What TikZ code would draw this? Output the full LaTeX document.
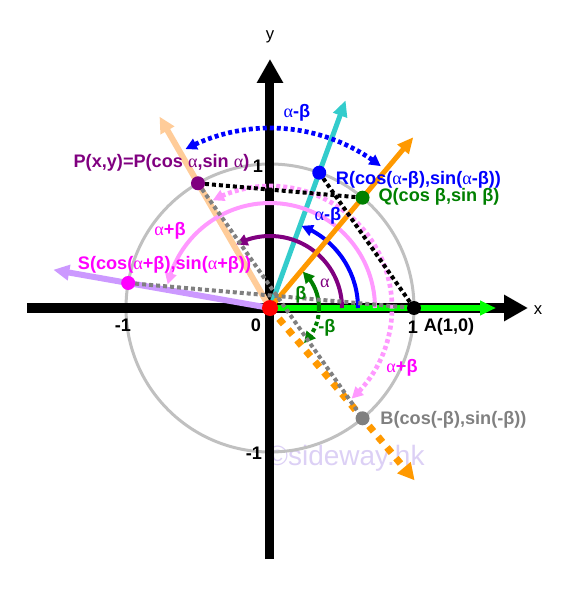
\documentclass[tikz,border=0pt]{standalone}
\usepackage{fontspec}
\setmainfont{Liberation Sans}
\newfontfamily\grk{Liberation Serif}
\usetikzlibrary{arrows.meta,bending}
\definecolor{corange}{HTML}{FF9900}
\definecolor{ccyan}{HTML}{33CCCC}
\definecolor{cpeach}{HTML}{FFCC99}
\definecolor{clav}{HTML}{CC99FF}
\definecolor{cpink}{HTML}{FF99FF}
\definecolor{cmag}{HTML}{FF00FF}
\definecolor{cpurple}{HTML}{800080}
\definecolor{cgreen}{HTML}{008000}
\definecolor{cblue}{HTML}{0000FF}
\definecolor{cgray}{HTML}{808080}
\definecolor{ccircle}{HTML}{C0C0C0}
\definecolor{clime}{HTML}{00FF00}
\definecolor{cwm}{HTML}{DCD0F5}
\newcommand\aA{{\grk\mdseries α}}
\newcommand\bB{β}
\begin{document}
\begin{tikzpicture}[x=0.75pt,y=0.75pt,
  lab/.style={font=\bfseries\fontsize{13.6}{16}\selectfont, inner sep=0},
  axlab/.style={font=\fontsize{12.5}{15}\selectfont, inner sep=0},
  axis/.style={line width=6.75pt,-{Triangle[length=18pt,width=18.75pt]}},
  ray/.style={line width=3.75pt,-{Triangle[length=12pt,width=10.5pt]}},
  wray/.style={line width=4.5pt,-{Triangle[length=12pt,width=11.25pt]}},
  chord/.style={line width=3pt,dash pattern=on 3pt off 2.25pt},
  arcst/.style={line width=3pt,-{Triangle[length=8.5pt,width=8.5pt]}},
  darc/.style={line width=3.5pt,dash pattern=on 3pt off 2.25pt,{Triangle[length=8.5pt,width=8.5pt]}-{Triangle[length=8.5pt,width=8.5pt]}},
  dotnode/.style={circle,inner sep=0,minimum size=10.5pt},
]
\useasboundingbox (-270,-288) rectangle (304,308);
\coordinate (O) at (0,0);
% watermark
\node[text=cwm,font=\fontsize{21}{24}\selectfont,inner sep=0] (wm) at (76,-150) {©sideway.hk};
% unit circle
\draw[ccircle,line width=2.25pt] (O) circle[radius=144];
% axes
\coordinate (xl) at (-243,0);
\coordinate (xr) at (258,0);
\coordinate (yb) at (0,-251);
\coordinate (yt) at (0,249);
\draw[axis] (xl) -- (xr);
\draw[axis] (yb) -- (yt);
\node[axlab] (xlab) at (268,-2) {x};
\node[axlab] (ylab) at (0,271) {y};
% points
\coordinate (Ap) at (0:144);
\coordinate (Pp) at (120:144);
\coordinate (Qp) at (50:144);
\coordinate (Rp) at (70:144);
\coordinate (Sp) at (170:144);
\coordinate (Bp) at (-50:144);
% rays
\coordinate (tG) at (0:226);
\coordinate (tO) at (50:223);
\coordinate (tOd) at (-50:225);
\coordinate (tC) at (70:221);
\coordinate (tP) at (120:221);
\coordinate (tL) at (170:220);
\draw[ray,clime] (O) -- (tG);
\draw[wray,cpeach] (O) -- (tP);
\draw[wray,clav] (O) -- (tL);
\draw[ray,ccyan] (O) -- (tC);
% arcs
\draw[arcst,cpurple] (72,0) arc[start angle=0,end angle=118,radius=72];
\draw[arcst,cblue] (88,0) arc[start angle=0,end angle=69,radius=88];
\draw[arcst,cpink] (105,0) arc[start angle=0,end angle=167,radius=105];
\draw[arcst,cgreen] (49,0) arc[start angle=0,end angle=48,radius=49];
\draw[arcst,cgreen,dash pattern=on 3pt off 2.25pt] (49,0) arc[start angle=0,end angle=-46,radius=49];
\draw[ray,corange] (O) -- (tO);
\draw[ray,corange,line width=5.25pt,dash pattern=on 5.25pt off 5.25pt,-{Triangle[length=12.5pt,width=12.5pt]}] (O) -- (tOd);
% double arcs
\draw[darc,cpink] (-48:122) arc[start angle=-48,end angle=118,radius=122];
\draw[darc,cblue] (52:180) arc[start angle=52,end angle=118,radius=180];
% chords
\draw[chord,cgray] (Sp) -- (Ap);
\draw[chord,cgray] (Pp) -- (Bp);
\draw[chord,black] (Pp) -- (Qp);
\draw[chord,black] (Rp) -- (Ap);
% dots
\node[dotnode,fill=black] (A) at (Ap) {};
\node[dotnode,fill=cpurple] (P) at (Pp) {};
\node[dotnode,fill=cgreen] (Q) at (Qp) {};
\node[dotnode,fill=cblue] (R) at (Rp) {};
\node[dotnode,fill=cmag] (S) at (Sp) {};
\node[dotnode,fill=cgray] (B) at (Bp) {};
\node[dotnode,fill=red,minimum size=12pt] (Od) at (O) {};
% point labels
\node[lab,text=cpurple] (Plab) at (-108.5,145) {P(x,y)=P(cos \aA,sin \aA)};
\node[lab,text=cblue] (Rlab) at (148.5,128) {R(cos(\aA-\bB),sin(\aA-\bB))};
\node[lab,text=cgreen] (Qlab) at (169,111) {Q(cos \bB,sin \bB)};
\node[lab,text=cmag] (Slab) at (-105.5,43) {S(cos(\aA+\bB),sin(\aA+\bB))};
\node[lab,text=cgray] (Blab) at (183.5,-112) {B(cos(-\bB),sin(-\bB))};
\node[lab] (Alab) at (179,-19) {A(1,0)};
% tick labels
\node[lab] (one1) at (-12,142) {1};
\node[lab] (one2) at (143,-19) {1};
\node[lab] (zero) at (-14,-17) {0};
\node[lab] (mone1) at (-147,-17) {-1};
\node[lab] (mone2) at (-16,-145) {-1};
% angle labels
\node[lab,text=cgreen] (lb) at (31,13) {\bB};
\node[lab,text=cgreen] (lmb) at (57,-20) {-\bB};
\node[lab,text=cpurple] (la) at (55,25) {\aA};
\node[lab,text=cblue] (lamb1) at (58,92) {\aA-\bB};
\node[lab,text=cblue] (lamb2) at (27,195) {\aA-\bB};
\node[lab,text=cmag] (lapb1) at (-100,77) {\aA+\bB};
\node[lab,text=cmag] (lapb2) at (132,-60) {\aA+\bB};
\end{tikzpicture}
\end{document}
